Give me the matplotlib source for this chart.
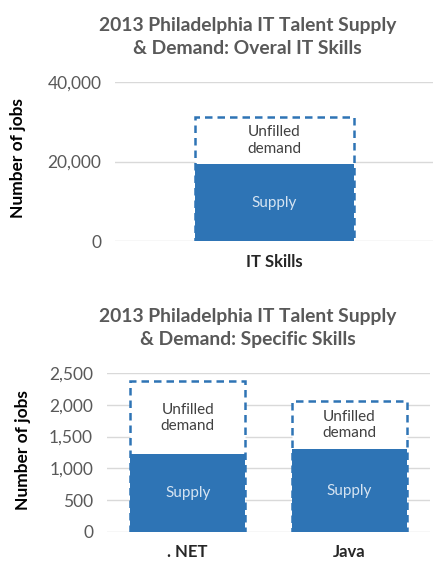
import matplotlib.pyplot as plt
from matplotlib.ticker import FuncFormatter

# overall chart
overall_cats = ["IT Skills"]
overall_supply = [19400]
overall_demand = [31200]

# specific skills chart
skill_cats = [". NET", "Java"]
skill_supply = [1220, 1300]
skill_demand = [2370, 2060]

BLUE = "#2E74B5"
GRID = "#D9D9D9"
TICK = "#595959"
FONT = ["Lato", "DejaVu Sans"]

plt.rcParams["font.family"] = FONT


def draw(ax, cats, supply, demand, width, ymax, step):
    x = range(len(cats))
    ax.bar(x, demand, width=width, color="white", edgecolor=BLUE,
           linestyle=(0, (3, 2)), linewidth=1.8, zorder=2)
    ax.bar(x, supply, width=width, color=BLUE, edgecolor=BLUE,
           linewidth=0, zorder=3)
    for i in x:
        ax.text(i, supply[i] / 2, "Supply", ha="center", va="center",
                color="#D6E4F2", fontsize=11, zorder=4)
        ax.text(i, (supply[i] + demand[i]) / 2, "Unfilled\ndemand",
                ha="center", va="center", color="#404040", fontsize=11,
                linespacing=1.2, zorder=4)
    ax.set_xlim(-0.5, len(cats) - 0.5)
    ax.set_ylim(0, ymax)
    ax.set_yticks(range(0, ymax + 1, step))
    ax.yaxis.set_major_formatter(FuncFormatter(lambda v, p: f"{int(v):,}"))
    ax.set_xticks(list(x))
    ax.set_xticklabels(cats, fontweight="bold", fontsize=12, color="#262626")
    ax.tick_params(axis="y", colors=TICK, labelsize=12.5, length=0, pad=10)
    ax.tick_params(axis="x", length=0, pad=9)
    ax.grid(axis="y", color=GRID, linewidth=1, zorder=0)
    ax.set_axisbelow(True)
    for s in ax.spines.values():
        s.set_visible(False)
    ax.set_ylabel("Number of jobs", fontweight="bold", fontsize=12.5,
                  color="black", va="center")


fig = plt.figure(figsize=(4.33, 5.61), dpi=100)
ax1 = fig.add_axes([0.266, 0.570, 0.734, 0.284])
ax2 = fig.add_axes([0.247, 0.052, 0.746, 0.283])

draw(ax1, overall_cats, overall_supply, overall_demand, 0.5, 40000, 20000)
draw(ax2, skill_cats, skill_supply, skill_demand, 0.71, 2500, 500)
ax1.yaxis.set_label_coords(18 / 433, 1 - 158 / 561, transform=fig.transFigure)
ax2.yaxis.set_label_coords(23 / 433, 1 - 450 / 561, transform=fig.transFigure)

# titles: first line spans x = 97..398 px in the reference
renderer = fig.canvas.get_renderer()
for y_px, sub in [(37, "Overal IT Skills"), (328, "Specific Skills")]:
    probe = fig.text(0, 0, "2013 Philadelphia IT Talent Supply",
                     fontweight="bold", fontsize=14)
    w = probe.get_window_extent(renderer).width
    probe.remove()
    size = 14 * 301 / w
    fig.text(247.5 / 433, 1 - y_px / 561,
             "2013 Philadelphia IT Talent Supply\n& Demand: " + sub,
             ha="center", va="center", fontweight="bold", fontsize=size,
             color="#595959", linespacing=1.4)

fig.savefig("out.png", dpi=100)
